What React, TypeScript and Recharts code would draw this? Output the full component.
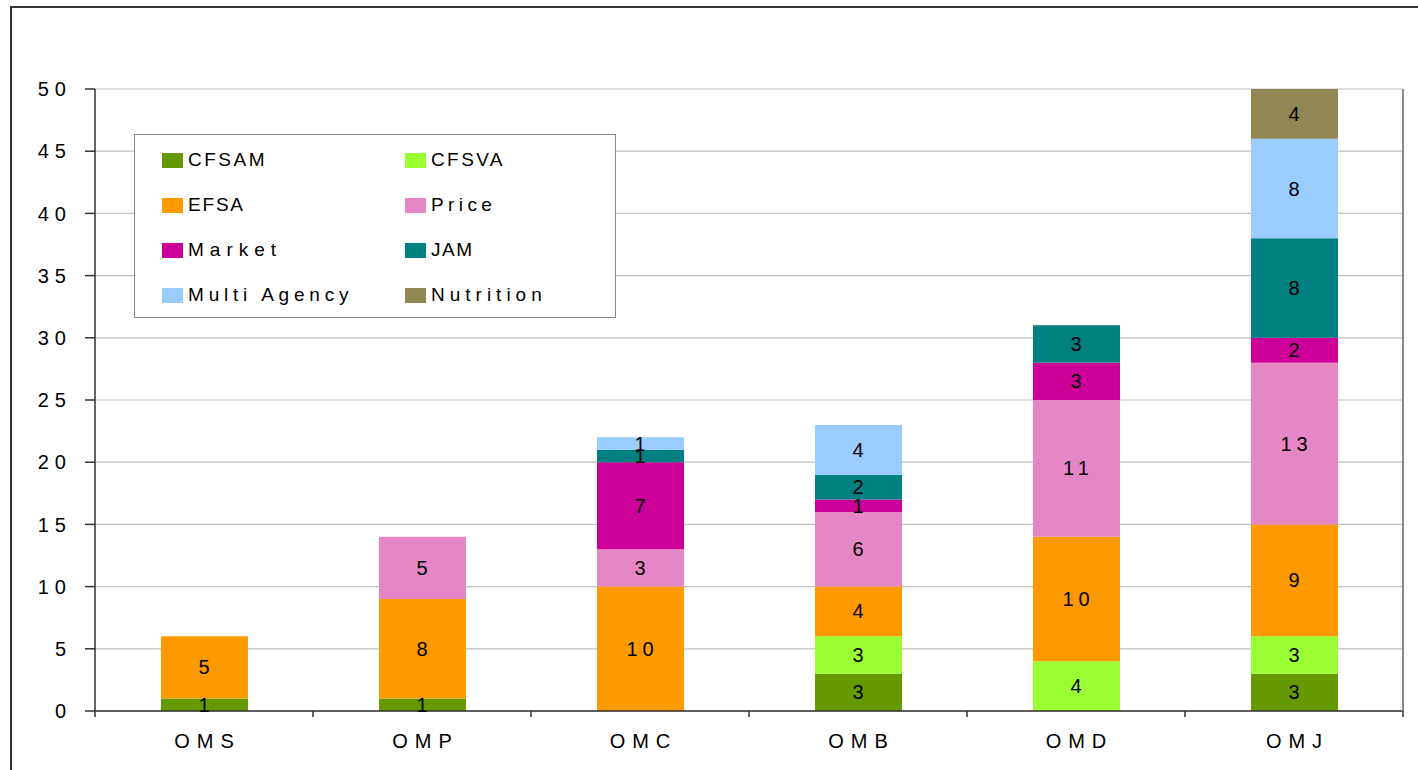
import React from 'react';
import {
  BarChart,
  Bar,
  XAxis,
  YAxis,
  CartesianGrid,
  Legend,
  LabelList,
} from 'recharts';

// Chart data
const categories = ['OMS', 'OMP', 'OMC', 'OMB', 'OMD', 'OMJ'];
const cfsam = [1, 1, null, 3, null, 3];
const cfsva = [null, null, null, 3, 4, 3];
const efsa = [5, 8, 10, 4, 10, 9];
const price = [null, 5, 3, 6, 11, 13];
const market = [null, null, 7, 1, 3, 2];
const jam = [null, null, 1, 2, 3, 8];
const multiAgency = [null, null, 1, 4, null, 8];
const nutrition = [null, null, null, null, null, 4];
const yTicks = [0, 5, 10, 15, 20, 25, 30, 35, 40, 45, 50];

const seriesList = [
  { key: 'CFSAM', name: 'CFSAM', values: cfsam, color: '#669900', spacing: 2.5 },
  { key: 'CFSVA', name: 'CFSVA', values: cfsva, color: '#99FF33', spacing: 2.4 },
  { key: 'EFSA', name: 'EFSA', values: efsa, color: '#FF9900', spacing: 1.8 },
  { key: 'Price', name: 'Price', values: price, color: '#E687C5', spacing: 4.4 },
  { key: 'Market', name: 'Market', values: market, color: '#CC0099', spacing: 6 },
  { key: 'JAM', name: 'JAM', values: jam, color: '#008080', spacing: 1.5 },
  { key: 'MultiAgency', name: 'Multi Agency', values: multiAgency, color: '#99CCFF', spacing: 4.8 },
  { key: 'Nutrition', name: 'Nutrition', values: nutrition, color: '#918752', spacing: 5 },
];

const data = categories.map((cat, i) => {
  const row: Record<string, string | number | null> = { name: cat };
  seriesList.forEach((s) => {
    row[s.key] = s.values[i];
  });
  return row;
});

const FONT = '"Liberation Sans", Arial, sans-serif';
const FS = 20;
const WIDTH = 1418;
const HEIGHT = 770;
const MARGIN = { top: 89, right: 14, left: 35, bottom: 19 };
const Y_AXIS_W = 60;
const PLOT_W = WIDTH - MARGIN.left - Y_AXIS_W - MARGIN.right - 1;
const BAND = PLOT_W / categories.length;

// x tick: category label plus tick marks on the band boundaries
const XTick = (props: any) => {
  const { x, y, payload, index } = props;
  const left = x - BAND / 2;
  return (
    <g>
      <line x1={left} y1={y} x2={left} y2={y + 6} stroke="#333" strokeWidth={1.5} />
      {index === categories.length - 1 && (
        <line x1={x + BAND / 2} y1={y} x2={x + BAND / 2} y2={y + 6} stroke="#333" strokeWidth={1.5} />
      )}
      <text
        x={x + 3.5}
        y={y + 37}
        textAnchor="middle"
        fontFamily={FONT}
        fontSize={FS}
        letterSpacing={7}
        fill="#000"
      >
        {payload.value}
      </text>
    </g>
  );
};

const renderValueLabel = (props: any) => {
  const { x, y, width, height, value } = props;
  if (value === null || value === undefined || value === 0) return null;
  return (
    <text
      x={x + width / 2 + 2}
      y={y + height / 2}
      textAnchor="middle"
      dominantBaseline="central"
      fontFamily={FONT}
      fontSize={FS}
      letterSpacing={5}
      fill="#000"
    >
      {value}
    </text>
  );
};

const legendRows = [
  ['CFSAM', 'CFSVA'],
  ['EFSA', 'Price'],
  ['Market', 'JAM'],
  ['MultiAgency', 'Nutrition'],
];

const LegendBox = () => (
  <div
    style={{
      width: 480,
      height: 182,
      border: '1.5px solid #888',
      background: '#fff',
      position: 'relative',
      fontFamily: FONT,
      fontSize: 19,
      color: '#000',
    }}
  >
    {legendRows.map((row, r) =>
      row.map((key, c) => {
        const s = seriesList.find((it) => it.key === key)!;
        return (
          <div
            key={key}
            style={{
              position: 'absolute',
              left: c === 0 ? 27 : 270,
              top: 15 + r * 45,
              display: 'flex',
              alignItems: 'center',
              height: 20,
              lineHeight: '20px',
            }}
          >
            <span
              style={{
                display: 'inline-block',
                width: 21,
                height: 15,
                background: s.color,
                marginRight: 5,
              }}
            />
            <span style={{ letterSpacing: s.spacing }}>{s.name}</span>
          </div>
        );
      })
    )}
  </div>
);

export default function App() {
  return (
    <div style={{ position: 'absolute', left: 0, top: 0, width: WIDTH, height: HEIGHT, background: '#fff' }}>
      <div
        style={{
          position: 'absolute',
          left: 10,
          top: 6,
          width: WIDTH - 10,
          height: HEIGHT - 6,
          borderLeft: '2px solid #333',
          borderTop: '2px solid #333',
          boxSizing: 'border-box',
        }}
      />
      <div style={{ position: 'absolute', left: 0, top: 0 }}>
        <BarChart width={WIDTH} height={HEIGHT} data={data} margin={MARGIN}>
          <CartesianGrid vertical={false} stroke="#c0c0c0" strokeWidth={1.2} />
          <XAxis
            dataKey="name"
            height={40}
            axisLine={{ stroke: '#333', strokeWidth: 1.5 }}
            tickLine={false}
            tickSize={0}
            tickMargin={0}
            tick={<XTick />}
            interval={0}
          />
          <YAxis
            width={Y_AXIS_W}
            domain={[0, 50]}
            ticks={yTicks}
            interval={0}
            axisLine={{ stroke: '#333', strokeWidth: 1.5 }}
            tickLine={{ stroke: '#333', strokeWidth: 1.5 }}
            tickSize={10}
            tickMargin={13}
            tick={{ fill: '#000', fontSize: FS, fontFamily: FONT, letterSpacing: 6 }}
          />
          <YAxis
            yAxisId="frame"
            orientation="right"
            width={1}
            domain={[0, 50]}
            tick={false}
            tickLine={false}
            axisLine={{ stroke: '#888', strokeWidth: 2 }}
          />
          <Legend
            layout="horizontal"
            verticalAlign="middle"
            align="center"
            wrapperStyle={{ left: 134, top: 134, width: 484, height: 186 }}
            content={() => <LegendBox />}
          />
          {seriesList.map((s) => (
            <Bar
              key={s.key}
              dataKey={s.key}
              name={s.name}
              stackId="a"
              fill={s.color}
              barSize={87}
              isAnimationActive={false}
            >
              <LabelList dataKey={s.key} content={renderValueLabel} />
            </Bar>
          ))}
        </BarChart>
      </div>
    </div>
  );
}
